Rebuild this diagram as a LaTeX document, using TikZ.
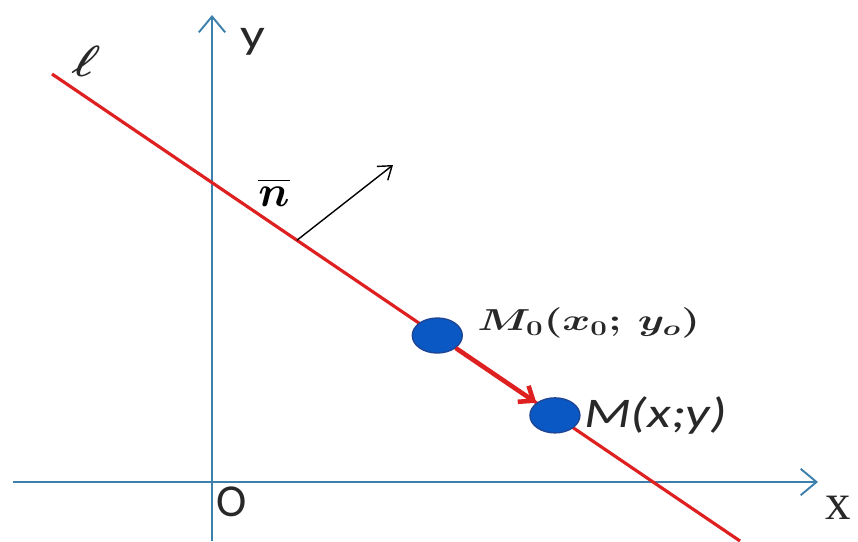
\documentclass[tikz,border=0pt]{standalone}
\usepackage{amsmath}
\usepackage{fontspec}
\newfontfamily\calib{Carlito}
\newfontfamily\tms{Liberation Serif}
\usepackage{tikz}
\usetikzlibrary{positioning}
\usetikzlibrary{shapes.geometric, arrows.meta, calc}

\definecolor{axisblue}{RGB}{62,128,172}
\definecolor{linered}{RGB}{222,32,32}
\definecolor{dotblue}{RGB}{10,88,196}
\definecolor{dotedge}{RGB}{30,70,150}
\definecolor{inkgray}{RGB}{40,40,40}

\tikzset{
  axis/.style={draw=axisblue, line width=1.1pt, -{Straight Barb[length=9pt,width=15pt]}},
  point/.style={ellipse, fill=dotblue, draw=dotedge, line width=0.8pt,
    minimum width=1.0cm, minimum height=0.7cm, inner sep=0pt},
  lab/.style={inner sep=0pt, text=inkgray},
}

\begin{document}
\begin{tikzpicture}[x=0.02cm, y=-0.02cm]
    \useasboundingbox (0,0) rectangle (858,541);
    % axes
    \coordinate (xs) at (13,482);
    \coordinate (xe) at (818,482);
    \coordinate (ys) at (212,541);
    \coordinate (ye) at (212,15);
    \draw[axis] (xs) -- (xe);
    \draw[axis] (ys) -- (ye);
    \node[lab, font=\calib\fontsize{24}{28}\selectfont, xscale=1.3, transform shape] (ylab) at (253,42) {y};
    \node[lab, font=\calib\fontsize{26}{30}\selectfont] (olab) at (232,502) {O};
    \node[lab, font=\tms\fontsize{29}{32}\selectfont] (xlab) at (838,508) {x};
    % line l
    \coordinate (la) at (52,74);
    \coordinate (lb) at (740,541);
    \draw[linered, line width=1.8pt] (la) -- (lb);
    \node[lab, font=\fontsize{28}{32}\selectfont, xslant=0.35, transform shape] (ell) at (86,61) {$\boldsymbol{\ell}$};
    % normal vector
    \coordinate (nf) at ($(la)!0.356!(lb)$);
    \coordinate (nt) at (393,165);
    \draw[line width=0.8pt, -{Straight Barb[length=7pt,width=10pt]}] (nf) -- (nt);
    \node[lab, font=\fontsize{28}{32}\selectfont, text=black] (nlab) at (274,192) {$\overline{\boldsymbol{n}}$};
    % points
    \node[point] (M0) at ($(la)!0.56!(lb)$) {};
    \node[point] (M) at ($(la)!0.731!(lb)$) {};
    \draw[linered, line width=2.6pt, -{Straight Barb[length=7pt,width=11pt]}] (M0) -- (M);
    \node[lab, font=\fontsize{17}{20}\selectfont, anchor=west, xscale=1.4, transform shape] (m0lab) at (477,323) {$\boldsymbol{M_0(x_0;\,y_o)}$};
    \node[lab, font=\calib\itshape\fontsize{24}{28}\selectfont, anchor=west, xscale=1.3, transform shape] (mlab) at ($(M.east)+(3,0)$) {M(x;y)};
\end{tikzpicture}
\end{document}
